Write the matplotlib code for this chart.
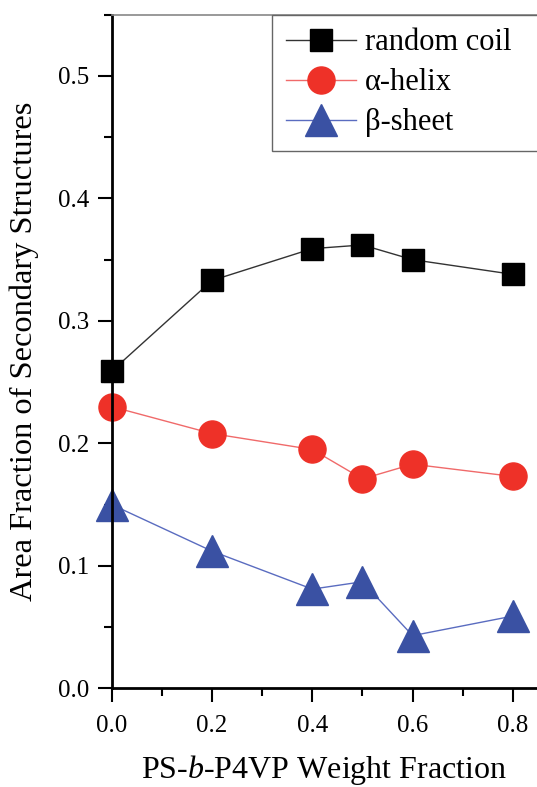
import matplotlib
matplotlib.use("Agg")
import matplotlib.pyplot as plt
from matplotlib.ticker import MultipleLocator

plt.rcParams['font.family'] = ['Liberation Serif', 'DejaVu Serif']
plt.rcParams['mathtext.fontset'] = 'custom'
plt.rcParams['mathtext.rm'] = 'Liberation Serif'
plt.rcParams['mathtext.it'] = 'Liberation Serif:italic'

# weight fraction of PS-b-P4VP
weight_fraction = [0.0, 0.2, 0.4, 0.5, 0.6, 0.8]

# area fractions from the amide I band fit
random_coil = [0.259, 0.333, 0.359, 0.362, 0.350, 0.338]
alpha_helix = [0.230, 0.208, 0.195, 0.171, 0.183, 0.173]
beta_sheet = [0.150, 0.112, 0.081, 0.087, 0.043, 0.059]

fig = plt.figure(figsize=(5.37, 7.87), dpi=100)
ax = fig.add_axes([0.208, 0.1254, 0.792, 0.8559])

ax.plot(weight_fraction, random_coil, color='#333333', lw=1.0,
        marker='s', ms=16.5, mfc='black', mec='black', label='random coil', clip_on=False)
ax.plot(weight_fraction, alpha_helix, color='#f06a6a', lw=1.0,
        marker='o', ms=19.5, mfc='#ee3128', mec='#ee3128', label='\u03b1-helix', clip_on=False)
ax.plot(weight_fraction, beta_sheet, color='#5a6cc0', lw=1.0,
        marker='^', ms=23, mfc='#3a51a3', mec='#3a51a3', label='\u03b2-sheet', clip_on=False)

ax.set_xlim(0, 0.848)
ax.set_ylim(0, 0.55)
ax.xaxis.set_major_locator(MultipleLocator(0.2))
ax.xaxis.set_minor_locator(MultipleLocator(0.1))
ax.yaxis.set_major_locator(MultipleLocator(0.1))
ax.yaxis.set_minor_locator(MultipleLocator(0.05))
ax.xaxis.set_major_formatter(plt.FormatStrFormatter('%.1f'))
ax.yaxis.set_major_formatter(plt.FormatStrFormatter('%.1f'))

ax.tick_params(which='major', direction='out', length=10, width=1.5, labelsize=18, pad=6)
ax.tick_params(axis='x', which='major', pad=9)
ax.tick_params(which='minor', direction='out', length=6, width=1.5)
ax.tick_params(top=False, right=False, which='both')

ax.spines['left'].set_linewidth(2)
ax.spines['bottom'].set_linewidth(2)
ax.spines['top'].set_color('#888888')
ax.spines['top'].set_linewidth(1.2)
ax.spines['right'].set_visible(False)

ax.set_xlabel('PS-$\\it{b}$-P4VP Weight Fraction', fontsize=23, labelpad=12)
ax.set_ylabel('Area Fraction of Secondary Structures', fontsize=23.4, labelpad=14)

# legend box runs past the right edge of the figure
leg = ax.legend(loc='upper left', bbox_to_anchor=(0.377, 0.0, 0.66, 1.0), mode='expand',
                borderaxespad=0, fontsize=22, handlelength=2.3, handletextpad=0.3,
                labelspacing=0.36, borderpad=0.45, fancybox=False, framealpha=1,
                edgecolor='#666666')
leg.get_frame().set_linewidth(1.0)

fig.savefig('out.png', dpi=100)
